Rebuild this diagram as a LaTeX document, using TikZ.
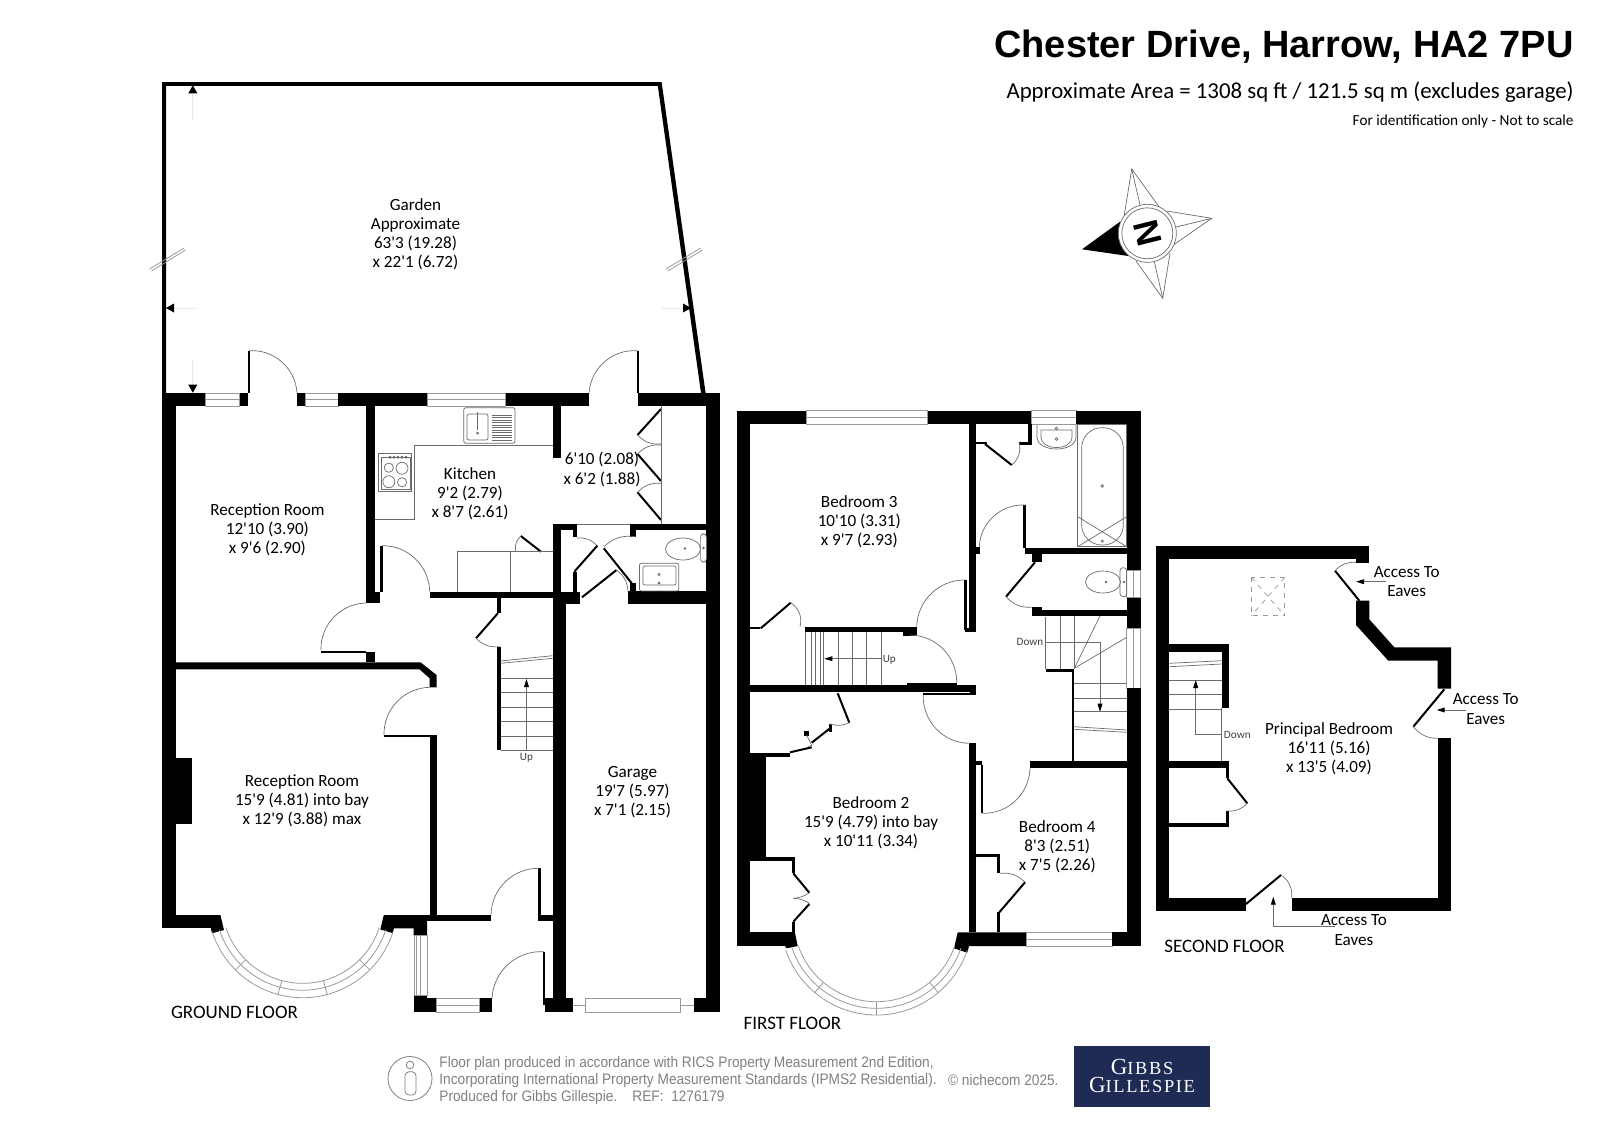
\documentclass[tikz,border=0pt]{standalone}
\usepackage{fontspec}
\usepackage{tikz}
\usetikzlibrary{arrows.meta}

\newfontfamily\plainfont{Carlito}
\newfontfamily\titlefont{Liberation Sans}
\newfontfamily\footfont[FakeStretch=0.9]{Liberation Sans}
\newfontfamily\logofont[LetterSpace=9]{Liberation Serif}

\definecolor{fineline}{gray}{0.42}
\definecolor{glassline}{gray}{0.6}
\definecolor{faintline}{gray}{0.9}
\definecolor{footgrey}{gray}{0.5}
\definecolor{logoblue}{RGB}{31,42,85}

\tikzset{
  wall/.style={fill=black},
  leaf/.style={draw=black,line width=1pt},
  swing/.style={draw=fineline,line width=0.35pt},
  fixture/.style={draw=fineline,line width=0.35pt},
  glazing/.style={draw=glassline,line width=0.4pt,fill=white},
  dimline/.style={draw=faintline,line width=0.4pt,-{Triangle[length=4pt,width=4.4pt,black]}},
  fineline/.style={draw=fineline,line width=0.4pt,-{Triangle[length=4pt,width=2.4pt,black]}},
  room/.style={font=\plainfont\fontsize{8.55}{9.55}\selectfont,align=center,inner sep=0pt,yshift=-0.7pt},
  floorname/.style={font=\plainfont\fontsize{9.5}{10}\selectfont,inner sep=0pt,yshift=-0.5pt},
  smallnote/.style={font=\plainfont\fontsize{5.6}{6}\selectfont,text=black!75,inner sep=0pt},
  footnote/.style={font=\footfont\fontsize{7.6}{8.3}\selectfont,text=footgrey,inner sep=0pt,align=left}
}

\newcommand{\hwindow}[4]{% x1 x2 y1 y2
  \draw[glazing] (#1,#3) rectangle (#2,#4);
  \draw[glazing] (#1,{(#3+#4)/2}) -- (#2,{(#3+#4)/2});
}
\newcommand{\vwindow}[4]{% x1 x2 y1 y2
  \draw[glazing] (#1,#3) rectangle (#2,#4);
  \draw[glazing] ({(#1+#2)/2},#3) -- ({(#1+#2)/2},#4);
}

\begin{document}
\begin{tikzpicture}[x=0.5pt,y=-0.5pt]
  \useasboundingbox (0,0) rectangle (1600,1131);

  % heading
  \node[font=\titlefont\bfseries\fontsize{19}{20}\selectfont,anchor=east,inner sep=0pt] (title) at (1574,47) {Chester Drive, Harrow, HA2 7PU};
  \node[font=\plainfont\fontsize{11.42}{12}\selectfont,anchor=east,inner sep=0pt] (area) at (1574,92) {Approximate Area = 1308 sq ft / 121.5 sq m (excludes garage)};
  \node[font=\plainfont\fontsize{7.65}{8}\selectfont,anchor=east,inner sep=0pt] (scale) at (1574,121) {For identification only - Not to scale};

  % compass
  \begin{scope}
    \draw[fixture] (1124.3,215) -- (1131.7,169) -- (1159,206.7);
    \draw[fixture] (1131.7,169) -- (1140,205);
    \draw[fixture] (1166.7,211) -- (1211.7,218.3) -- (1173.3,245);
    \draw[fixture] (1211.7,218.3) -- (1175,227.3);
    \draw[fixture] (1170,253.3) -- (1162.7,298.3) -- (1136,261);
    \draw[fixture] (1162.7,298.3) -- (1154.3,261.7);
    \fill[wall] (1120,221.7) -- (1082,249.3) -- (1128.3,256) -- cycle;
    \draw[fixture,fill=white] (1147.3,233.3) circle (29);
    \draw[fixture] (1147.3,233.3) circle (25.5);
    \node[font=\titlefont\bfseries\fontsize{17.5}{18}\selectfont,rotate=104,inner sep=0pt] (north) at (1147.3,233.3) {N};
  \end{scope}

  % garden
  \fill[wall] (162,393) -- (162,82) -- (661.6,82) -- (705.6,393) -- (701,393) -- (657.8,85.8) -- (166,85.8) -- (166,393) -- cycle;
  \draw[dimline] (192.8,120) -- (192.8,85.3);
  \draw[dimline] (192.8,360) -- (192.8,392.7);
  \draw[dimline] (195,308) -- (166,308);
  \draw[dimline] (662,308) -- (691,308);
  \draw[glazing,fill=none] (149.6,269) -- (184,248);
  \draw[glazing,fill=none] (151.5,271) -- (185.5,250);
  \draw[glazing,fill=none] (666,269) -- (700.7,248);
  \draw[glazing,fill=none] (668,271) -- (702.5,250);
  \node[room] (garden) at (415.5,233) {Garden\\Approximate\\63'3 (19.28)\\x 22'1 (6.72)};

  % ground floor, outer walls
  \fill[wall] (162,393) rectangle (205,406);
  \hwindow{205}{239.5}{393}{406}
  \fill[wall] (239.5,393) rectangle (248.3,406);
  \fill[wall] (297,393) rectangle (305,406);
  \hwindow{305}{338}{393}{406}
  \fill[wall] (338,393) rectangle (427,406);
  \hwindow{427}{505.5}{393}{406}
  \fill[wall] (505.5,393) rectangle (589,406);
  \fill[wall] (637.5,393) rectangle (720,406);
  \fill[wall] (162,393) rectangle (175.6,928.3);
  \fill[wall] (706.4,393) rectangle (720,1012);
  \fill[wall] (175.6,758.3) rectangle (191.7,824.3);
  \fill[wall] (162,915) rectangle (220.4,928.3);
  \fill[wall] (220.4,915) -- (224,930) -- (212,933.3) -- (210.8,928.3) -- cycle;
  \fill[wall] (383.8,915) -- (427,915) -- (427,935) -- (413.6,935) -- (413.6,928.3) -- (394,928.3) -- (392.6,933) -- (380.3,929.5) -- cycle;

  % ground floor, inner walls
  \fill[wall] (366,406) rectangle (375.4,603);
  \fill[wall] (366,592) rectangle (380,603);
  \fill[wall] (380.3,545.7) rectangle (382.6,592);
  \fill[wall] (429.7,591.7) rectangle (580,598.3);
  \fill[wall] (553.3,591.7) rectangle (580,604);
  \fill[wall] (553.3,591.7) rectangle (566,1012);
  \fill[wall] (553.3,406) rectangle (561.2,458);
  \fill[wall] (553.3,524) rectangle (577,530);
  \fill[wall] (553.3,524) rectangle (561,592);
  \fill[wall] (572.5,530) rectangle (577,537);
  \fill[wall] (573,571.7) rectangle (577,592);
  \fill[wall] (630,524) rectangle (706.4,530);
  \fill[wall] (630,530) rectangle (635.6,537);
  \fill[wall] (629.9,583) rectangle (636.4,592);
  \fill[wall] (628,591) rectangle (706.4,604);
  \fill[wall] (175.6,662.3) -- (420.5,662.3) -- (436.6,675) -- (436.6,687.3) -- (429.7,687.3) -- (429.7,678.3) -- (419.4,669.3) -- (175.6,669.3) -- cycle;
  \fill[wall] (366,651.7) rectangle (375.4,662.3);
  \fill[wall] (321,651) rectangle (366,652.7);
  \fill[wall] (384,735) rectangle (434.7,737.3);
  \fill[wall] (429.7,735) rectangle (436.6,921);
  \fill[wall] (427,915) rectangle (491,921);
  \fill[wall] (538,868.3) rectangle (540.7,921);
  \fill[wall] (539,915) rectangle (553.3,921);
  \fill[wall] (248.3,350.7) rectangle (250,393);
  \fill[wall] (637,350.7) rectangle (639,393);
  \fill[wall] (496.7,598) rectangle (500.5,613);
  \fill[wall] (496.7,646.7) rectangle (500.5,750);

  % ground floor, doors
  \draw[swing] (249,350.7) to[bend left=45] (297,393);
  \draw[swing] (589,393) to[bend left=45] (637.5,350.7);
  \draw[swing] (381.9,545.7) to[bend left=45] (429.7,591.7);
  \draw[swing] (321,650) to[bend left=45] (366,603);
  \draw[swing] (384,735) to[bend left=45] (429.7,687.3);
  \draw[swing] (491,915) to[bend left=45] (539,868.3);
  \draw[swing] (492,998) to[bend left=45] (544,951.7);
  \fill[wall] (543,951.7) rectangle (545,1005);
  \draw[leaf] (497.8,613.3) -- (476,638.3);
  \draw[swing] (499.7,646.7) to[bend left=25] (476,638.3);
  \draw[leaf] (574.3,571.7) -- (597.3,545.7);
  \draw[swing] (577,538) to[bend left=25] (597.3,545.7);
  \draw[leaf] (582,597.3) -- (616.5,570);
  \draw[swing] (616.5,570) to[bend left=25] (628,591.7);
  \draw[leaf] (603.8,548.3) -- (631.8,583.3);
  \draw[swing] (603.8,546.7) to[bend left=25] (635.6,536.7);
  \draw[leaf] (520.8,536) -- (541,551.7);
  \draw[swing] (515.8,551.7) to[bend left=30] (520.8,536);
  \draw[leaf] (661,409) -- (637.5,435);
  \draw[swing] (661,444) to[bend left=25] (637.5,435);
  \draw[leaf] (637.5,454) -- (661,481);
  \draw[swing] (637.5,454) to[bend left=25] (661,445);
  \draw[leaf] (637.5,492.3) -- (661,520);
  \draw[swing] (637.5,492.3) to[bend left=25] (661,483.3);

  % ground floor, kitchen and cloakroom
  \draw[fixture] (661,406) -- (661,524);
  \draw[fixture] (577,524) -- (630,524);
  \draw[fixture] (375.4,519.3) -- (414.8,519.3) -- (414.8,445.7) -- (553.3,445.7);
  \draw[fixture] (456.9,591.7) -- (456.9,551.7) -- (553.3,551.7);
  \draw[fixture] (510.5,551.7) -- (510.5,591.7);
  \draw[fixture,fill=white,rounded corners=1pt] (463.8,407.7) rectangle (515,443.3);
  \draw[fixture,rounded corners=1pt] (467,414) rectangle (488,440);
  \foreach \y in {415,417.5,...,440} {
    \draw[fixture] (492,\y) -- (512,\y);
  }
  \draw[fixture] (477.5,412) -- (477.5,430);
  \draw[fixture] (477.5,433) circle (1);
  \draw[fixture,fill=white] (378.4,453.3) rectangle (411.7,491.7);
  \draw[fixture] (381,457) rectangle (410,489);
  \foreach \x in {390,394,398,402,406} {
    \draw[fixture] (\x,457.3) circle (1.1);
  }
  \draw[fixture] (388.8,467.7) circle (4.6);
  \draw[fixture] (402,468.3) circle (6);
  \draw[fixture] (388.8,481.7) circle (6);
  \draw[fixture] (402,482.3) circle (4.6);
  \draw[fixture] (683,549) circle[x radius=17.5,y radius=11];
  \draw[fixture,rounded corners=1.5pt] (700.6,534) rectangle (706.4,562);
  \draw[fixture] (685,548.5) circle (0.9);
  \draw[fixture] (703.5,548) circle (0.8);
  \draw[fixture,rounded corners=1pt] (639.4,563.3) rectangle (678.8,591);
  \draw[fixture,rounded corners=1pt] (643,566) rectangle (676,585);
  \draw[fixture] (659,574.5) circle (1.1);
  \draw[fixture] (659,583) circle (1.1);

  % ground floor, stairs
  \foreach \y in {678.3,692.7,707,721.7,736,750} {
    \draw[fixture] (500.5,\y) -- (553.3,\y);
  }
  \draw[fixture] (500.5,661) -- (552.5,655.7);
  \draw[fixture] (500.5,663.3) -- (552.5,658.3);
  \draw[fineline] (526.5,750) -- (526.5,679);
  \node[smallnote] (upground) at (526.5,758) {Up};

  % ground floor, bay and porch
  \foreach \r in {80.6,87.5,95} {
    \draw[glazing,fill=none] (302.6,902.7) ++(18:\r) arc[start angle=18,end angle=162,radius=\r];
  }
  \foreach \a in {45,75,105,135} {
    \draw[glazing,fill=none] (302.6,902.7) ++(\a:80.6) -- ++(\a:14.4);
  }
  \vwindow{414}{427}{935}{995.7}
  \draw[glazing,fill=none] (416,935) -- (416,995.7);
  \fill[wall] (414,995.7) rectangle (427,1012);
  \fill[wall] (427,998.3) rectangle (436.6,1012);
  \hwindow{436.6}{479.5}{998.3}{1012}
  \fill[wall] (479.5,998.3) rectangle (492,1012);
  \fill[wall] (544.5,998.3) rectangle (572.5,1012);
  \fill[wall] (693.8,998.3) rectangle (720,1012);
  \draw[glazing] (572.5,1005) -- (585,1005);
  \draw[glazing] (585,998.3) rectangle (680.7,1012);
  \draw[glazing] (680.7,1005) -- (693.8,1005);

  % ground floor, labels
  \node[room] (receptiona) at (267.4,528) {Reception Room\\12'10 (3.90)\\x 9'6 (2.90)};
  \node[room] (kitchen) at (470,492.7) {Kitchen\\9'2 (2.79)\\x 8'7 (2.61)};
  \node[room] (utility) at (602,468) {6'10 (2.08)\\x 6'2 (1.88)};
  \node[room] (receptionb) at (302,799.3) {Reception Room\\15'9 (4.81) into bay\\x 12'9 (3.88) max};
  \node[room] (garage) at (632.5,790.7) {Garage\\19'7 (5.97)\\x 7'1 (2.15)};
  \node[floorname,anchor=west] (ground) at (170.6,1011.7) {GROUND FLOOR};

  % first floor, outer walls
  \fill[wall] (736.7,410.7) rectangle (806,424);
  \hwindow{806}{927.7}{410.7}{424}
  \fill[wall] (927.7,410.7) rectangle (1031.7,424);
  \hwindow{1031.7}{1076}{410.7}{424}
  \fill[wall] (1076,410.7) rectangle (1140.7,424);
  \fill[wall] (736.7,410.7) rectangle (750,946);
  \fill[wall] (1126.7,410.7) rectangle (1140.7,570);
  \vwindow{1126.7}{1140.7}{570}{597.7}
  \fill[wall] (1126.7,597.7) rectangle (1140.7,628.3);
  \vwindow{1126.7}{1140.7}{628.3}{688.3}
  \fill[wall] (1126.7,688.3) rectangle (1140.7,946);
  \fill[wall] (736.7,932.3) rectangle (795,946);
  \fill[wall] (795,933) -- (797.7,946) -- (786.7,948.3) -- (785,946) -- cycle;
  \fill[wall] (957.7,932.3) -- (1026.7,932.3) -- (1026.7,946) -- (969,946) -- (967.3,952.7) -- (954,948.3) -- cycle;
  \hwindow{1026.7}{1112.3}{932.3}{946}
  \fill[wall] (1112.3,932.3) rectangle (1140.7,946);

  % first floor, inner walls
  \fill[wall] (969,424) rectangle (975.7,632.3);
  \fill[wall] (965,628.3) rectangle (975.7,632.3);
  \fill[wall] (964.3,580) rectangle (966.7,630);
  \fill[wall] (805,626.7) rectangle (916.7,632.3);
  \fill[wall] (903.3,632) rectangle (916.7,635.7);
  \fill[wall] (750,626.7) rectangle (760,629.3);
  \fill[wall] (750,685) rectangle (975.7,691.7);
  \fill[wall] (906.7,683) rectangle (956.7,685);
  \fill[wall] (970,685) rectangle (975.7,695);
  \fill[wall] (923.3,693.3) rectangle (973,695);
  \fill[wall] (969,743.3) rectangle (975.7,932.3);
  \fill[wall] (975.7,761) rectangle (982.3,765);
  \fill[wall] (980.7,765) rectangle (982.7,813);
  \fill[wall] (1030,761) rectangle (1126.7,768.3);
  \fill[wall] (1071.7,670) rectangle (1074.3,761);
  \fill[wall] (1045.7,669.3) rectangle (1074.3,672);
  \fill[wall] (1025,547.7) rectangle (1126.7,554.3);
  \fill[wall] (1023.3,505) rectangle (1025.7,548);
  \fill[wall] (975.7,546.7) rectangle (980,554);
  \fill[wall] (1031.7,554) rectangle (1041.7,561.7);
  \fill[wall] (1031.7,607.3) rectangle (1041.7,616);
  \fill[wall] (1041.7,610) rectangle (1126.7,616);
  \fill[wall] (975.7,441.7) rectangle (986.7,444);
  \fill[wall] (1019,441.7) rectangle (1028,445);
  \fill[wall] (1027.7,424) rectangle (1031.7,445);
  \fill[wall] (750,753.3) rectangle (790,756.7);
  \fill[wall] (750,756.7) rectangle (766,856.7);
  \fill[wall] (750,856.7) rectangle (795,860.7);
  \fill[wall] (791.7,860.7) rectangle (795,873.3);
  \fill[wall] (792.3,921.7) rectangle (795,932.3);
  \fill[wall] (975.7,854) rectangle (1000,857.3);
  \fill[wall] (997.3,857) rectangle (1000,873);
  \fill[wall] (997.3,912) rectangle (1000,932.3);

  % first floor, doors
  \draw[swing] (916.7,626.7) to[bend left=45] (965.7,580);
  \draw[leaf] (760.7,628.3) -- (790.7,602.7);
  \draw[swing] (790.7,602.7) to[bend left=35] (800,626.7);
  \draw[swing] (910,635) to[bend left=45] (956.7,682.7);
  \draw[swing] (968.3,743.3) to[bend left=45] (923.3,695);
  \draw[swing] (1030,768.3) to[bend left=45] (982.3,813.3);
  \draw[swing] (979.3,546.7) to[bend left=45] (1025,505);
  \draw[leaf] (1035,562.3) -- (1006,596.7);
  \draw[swing] (1031.7,607.3) to[bend left=25] (1006,596.7);
  \draw[leaf] (985,444) -- (1011.7,465);
  \draw[swing] (1019.3,443.3) to[bend left=30] (1011.7,465);
  \draw[leaf] (790,752.3) -- (811.7,747.3);
  \draw[leaf] (811.7,742.7) -- (830,728.3);
  \fill[wall] (829,723.7) rectangle (832,732);
  \fill[wall] (804,731) rectangle (809,736);
  \draw[swing] (806.5,735) -- (811.7,745) -- (808,747);
  \draw[leaf] (837.7,693.3) -- (849.3,722.7);
  \draw[swing] (849.3,722.7) to[bend left=20] (830,724);
  \draw[leaf] (793.3,873.3) -- (809.3,892.7);
  \draw[swing] (809.3,892.7) to[bend left=15] (793.3,898.3);
  \draw[swing] (793.3,898.3) to[bend left=15] (809.3,903.3);
  \draw[leaf] (809.3,904) -- (793.3,921.7);
  \draw[swing] (1000,873.3) to[bend left=25] (1025,882.3);
  \draw[leaf] (1025,882.3) -- (999.3,912.3);

  % first floor, stairs
  \foreach \x in {805,811,815,820,823,838.3,852.3,866.7,881.7} {
    \draw[fixture] (\x,632.3) -- (\x,685);
  }
  \draw[fineline] (881.7,658.7) -- (824.3,658.7);
  \node[smallnote] (upfirst) at (889.3,659.3) {Up};
  \draw[fixture] (1045.7,617) -- (1045.7,669.3);
  \draw[fixture] (1060,616) -- (1060,669);
  \draw[fixture] (1074.3,616) -- (1074.3,669);
  \draw[fixture] (1074.3,668.3) -- (1100,616);
  \draw[fixture] (1074.3,668.3) -- (1126.7,637.3);
  \draw[fineline] (1045.7,642.3) -- (1100,642.3) -- (1100,711.7);
  \node[smallnote] (downfirst) at (1030,641.7) {Down};
  \foreach \y in {683.3,698.3,711.7} {
    \draw[fixture] (1074.3,\y) -- (1126.7,\y);
  }
  \draw[fixture] (1074.3,726.7) -- (1126.7,730);
  \draw[fixture] (1074.3,729.3) -- (1126.7,732.3);

  % first floor, bathroom
  \draw[fixture] (1037,425) -- (1037,437) .. controls (1037,453) and (1076,453) .. (1076,437) -- (1076,425);
  \draw[fixture] (1041,430) -- (1072,430) -- (1072,437) .. controls (1072,451) and (1041,451) .. (1041,437) -- cycle;
  \draw[fixture] (1056.5,428.5) circle (1.3);
  \draw[fixture] (1056.5,439) circle (1.3);
  \draw[fixture] (1077.7,424) rectangle (1126.7,546.7);
  \draw[fixture,rounded corners=10pt] (1081.7,545) -- (1081.7,427.7) -- (1123.3,427.7) -- (1123.3,545) -- cycle;
  \draw[fixture] (1102.3,486) circle (1.4);
  \draw[fixture] (1077.7,516.7) -- (1126.7,546.7);
  \draw[fixture] (1126.7,516.7) -- (1077.7,546.7);
  \draw[fixture] (1102.3,541) circle (1.2);
  \draw[fixture] (1103,582) circle[x radius=17.5,y radius=11];
  \draw[fixture,rounded corners=1.5pt] (1120,567.7) rectangle (1126.7,596.7);
  \draw[fixture] (1106,582) circle (0.9);
  \draw[fixture] (1124,582) circle (0.8);

  % first floor, bay
  \foreach \r in {82.7,89.3,96} {
    \draw[glazing,fill=none] (876.5,919) ++(19:\r) arc[start angle=19,end angle=161,radius=\r];
  }
  \foreach \a in {50,90,130} {
    \draw[glazing,fill=none] (876.5,919) ++(\a:82.7) -- ++(\a:13.3);
  }

  % first floor, labels
  \node[room] (bedthree) at (859.3,520) {Bedroom 3\\10'10 (3.31)\\x 9'7 (2.93)};
  \node[room] (bedtwo) at (871,821.3) {Bedroom 2\\15'9 (4.79) into bay\\x 10'11 (3.34)};
  \node[room] (bedfour) at (1057.3,845.7) {Bedroom 4\\8'3 (2.51)\\x 7'5 (2.26)};
  \node[floorname,anchor=west] (first) at (743.3,1022.3) {FIRST FLOOR};

  % second floor
  \fill[wall] (1156,546) rectangle (1369.3,559.3);
  \fill[wall] (1356,559) rectangle (1369.3,562.7);
  \fill[wall] (1156,546) rectangle (1169.3,911);
  \fill[wall] (1356,600.7) -- (1369.3,600.7) -- (1369.3,619.3) -- (1394.3,647.3) -- (1451,647.3) -- (1451,688.7) -- (1437.7,688.7) -- (1437.7,660.7) -- (1388.3,660.7) -- (1356,625) -- cycle;
  \fill[wall] (1437.7,738.3) rectangle (1451,911);
  \fill[wall] (1291.7,897.7) rectangle (1451,911);
  \fill[wall] (1156,897.7) rectangle (1246,911);
  \fill[wall] (1169.3,644.3) rectangle (1229,651.7);
  \fill[wall] (1221.7,651.7) rectangle (1229,708.3);
  \fill[wall] (1169.3,760.7) rectangle (1229,767.7);
  \fill[wall] (1225.7,767.7) rectangle (1229,778.3);
  \fill[wall] (1225.7,811) rectangle (1229,826.7);
  \fill[wall] (1169.3,823.3) rectangle (1229,826.7);
  \draw[leaf] (1335,570.7) -- (1359.3,600.7);
  \draw[swing] (1335,570.7) to[bend left=25] (1356,562.3);
  \draw[leaf] (1444.3,689.3) -- (1413.3,726.7);
  \draw[swing] (1437.7,738.3) to[bend left=25] (1413.3,726.7);
  \draw[leaf] (1246,904) -- (1281,875);
  \draw[swing] (1281,875) to[bend left=30] (1291.7,897.7);
  \draw[leaf] (1227.3,778.3) -- (1247.3,803.3);
  \draw[swing] (1247.3,803.3) to[bend left=25] (1227.3,811);

  % second floor, stairs and rooflight
  \draw[fixture] (1221.7,708) -- (1221.7,760.7);
  \foreach \y in {680,694.3,709} {
    \draw[fixture] (1169.3,\y) -- (1221.7,\y);
  }
  \draw[fixture] (1169.3,663.3) -- (1221.7,660.7);
  \draw[fixture] (1169.3,666.7) -- (1221.7,664);
  \draw[fineline] (1221.7,734) -- (1195.7,734) -- (1195.7,680);
  \node[smallnote] (downsecond) at (1237.3,735) {Down};
  \draw[glassline,line width=0.35pt,dash pattern=on 2.5pt off 2.5pt] (1251.3,577.3) rectangle (1284.7,615.7);
  \draw[glassline,line width=0.35pt,dash pattern=on 2.5pt off 2.5pt] (1251.3,577.3) -- (1284.7,615.7);
  \draw[glassline,line width=0.35pt,dash pattern=on 2.5pt off 2.5pt] (1284.7,577.3) -- (1251.3,615.7);

  % second floor, labels
  \node[room] (accessa) at (1406.7,580.5) {Access To\\Eaves};
  \draw[fineline] (1386,581.7) -- (1356,581.7);
  \node[room] (accessb) at (1485.7,707.7) {Access To\\Eaves};
  \draw[fineline] (1466,710) -- (1436.7,710);
  \node[room] (accessc) at (1354,928.7) {Access To\\Eaves};
  \draw[fineline] (1335,926.7) -- (1273.3,926.7) -- (1273.3,896.7);
  \node[room] (principal) at (1329,747.7) {Principal Bedroom\\16'11 (5.16)\\x 13'5 (4.09)};
  \node[floorname,anchor=west] (second) at (1164,945.7) {SECOND FLOOR};

  % footer
  \draw[glazing,fill=none,draw=footgrey] (410,1078.5) circle (22);
  \draw[glazing,fill=none,draw=footgrey] (410,1065) circle (3.8);
  \draw[glazing,fill=none,draw=footgrey,rounded corners=2pt] (405,1071.7) rectangle (416,1095);
  \node[footnote,anchor=north west] (statement) at (439,1056.5) {Floor plan produced in accordance with RICS Property Measurement 2nd Edition,\\Incorporating International Property Measurement Standards (IPMS2 Residential).\\Produced for Gibbs Gillespie.\quad REF:\ \ 1276179};
  \node[footnote,anchor=west] (copyright) at (947.7,1080.3) {\textcopyright\ nichecom 2025.};
  \fill[logoblue] (1074,1046) rectangle (1210,1107);
  \node[inner sep=0pt,text=white,align=center,font=\logofont\fontsize{11.5}{9.2}\selectfont] (logo) at (1142,1076) {G\fontsize{9.2}{9.2}\selectfont IBBS\\\fontsize{11.5}{9.2}\selectfont G\fontsize{9.2}{9.2}\selectfont ILLESPIE};
\end{tikzpicture}
\end{document}
